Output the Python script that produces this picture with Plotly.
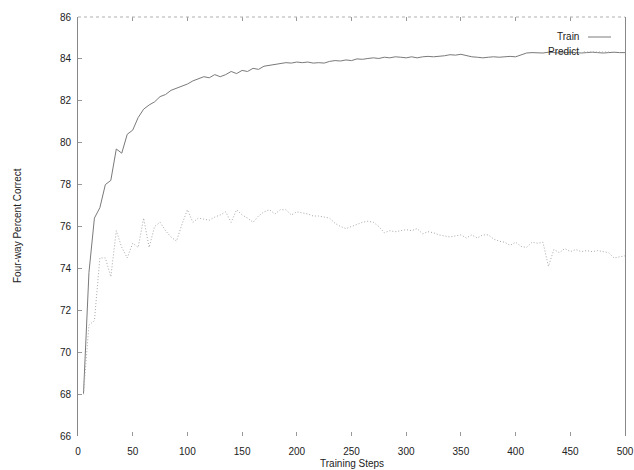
import plotly.graph_objects as go

steps = list(range(5, 505, 5))

train = [68.0, 73.8, 76.4, 76.9, 78.0, 78.2, 79.7, 79.5, 80.4, 80.6,
         81.2, 81.6, 81.8, 81.95, 82.2, 82.3, 82.5, 82.6, 82.7, 82.8,
         82.95, 83.05, 83.15, 83.1, 83.25, 83.15, 83.25, 83.4, 83.3, 83.45,
         83.4, 83.55, 83.5, 83.65, 83.7, 83.72, 83.78, 83.82, 83.8, 83.85,
         83.82, 83.85, 83.8, 83.82, 83.8, 83.88, 83.92, 83.9, 83.95, 83.92,
         84.0, 83.98, 84.02, 84.05, 84.02, 84.08, 84.05, 84.1, 84.08, 84.05,
         84.1, 84.05, 84.1, 84.12, 84.1, 84.12, 84.15, 84.2, 84.18, 84.22,
         84.15, 84.1, 84.08, 84.05, 84.08, 84.1, 84.08, 84.1, 84.12, 84.1,
         84.2, 84.28, 84.3, 84.3, 84.28, 84.32, 84.3, 84.28, 84.3, 84.32,
         84.3, 84.28, 84.3, 84.32, 84.3, 84.28, 84.3, 84.32, 84.3, 84.3]

predict = [68.0, 71.3, 71.5, 74.5, 74.5, 73.6, 75.8, 75.0, 74.5, 75.2,
           75.0, 76.4, 75.0, 76.0, 76.2, 75.8, 75.5, 75.3, 76.1, 76.8,
           76.2, 76.4, 76.35, 76.3, 76.45, 76.55, 76.7, 76.2, 76.8, 76.55,
           76.4, 76.2, 76.5, 76.7, 76.8, 76.6, 76.8, 76.8, 76.55, 76.7,
           76.65, 76.6, 76.5, 76.5, 76.45, 76.4, 76.15, 76.0, 75.9, 76.0,
           76.1, 76.2, 76.25, 76.2, 76.0, 75.7, 75.8, 75.75, 75.8, 75.85,
           75.8, 75.9, 75.65, 75.75, 75.7, 75.6, 75.55, 75.5, 75.55, 75.6,
           75.45, 75.6, 75.45, 75.6, 75.6, 75.4, 75.3, 75.25, 75.1, 75.25,
           75.05, 75.0, 75.25, 75.2, 75.25, 74.1, 74.9, 74.75, 74.95, 74.8,
           74.9, 74.8, 74.85, 74.8, 74.85, 74.8, 74.75, 74.5, 74.55, 74.6]

x_ticks = [0, 50, 100, 150, 200, 250, 300, 350, 400, 450, 500]
y_ticks = [66, 68, 70, 72, 74, 76, 78, 80, 82, 84, 86]

FONT = "Liberation Sans, Arial, sans-serif"
TXT = "#222222"
TRAIN_C = "#7a7a7a"
PRED_C = "#a8a8a8"

# plot area spans 547 x 419 px, top-left at (78, 17) in the window
PW, PH = 547, 419
OX, OY = 78, 17


def px(xw):
    return (xw - OX) / PW


def py(yw):
    return (OY + PH - yw) / PH


fig = go.Figure()
fig.add_trace(go.Scatter(x=steps, y=train, mode="lines", name="Train",
                         line=dict(color=TRAIN_C, width=1), showlegend=False))
fig.add_trace(go.Scatter(x=steps, y=predict, mode="lines", name="Predict",
                         line=dict(color=PRED_C, width=1, dash="1px,2px"),
                         showlegend=False))

fig.update_layout(
    width=634, height=470,
    margin=dict(l=78, r=9, t=17, b=34, autoexpand=False),
    paper_bgcolor="white", plot_bgcolor="white",
    font=dict(family=FONT, size=10, color=TXT),
    xaxis=dict(range=[0, 500], tickvals=x_ticks, ticks="inside", ticklen=4,
               tickcolor="#999999", showgrid=False, zeroline=False,
               showline=False, mirror="ticks", ticklabelstandoff=8,
               automargin=False,
               tickfont=dict(size=10, family=FONT, color=TXT)),
    yaxis=dict(range=[66, 86], tickvals=y_ticks, ticks="inside", ticklen=4,
               tickcolor="#999999", showgrid=False, zeroline=False,
               showline=True, linecolor="#888888", linewidth=1, mirror=True,
               ticklabelstandoff=4, automargin=False,
               tickfont=dict(size=10, family=FONT, color=TXT)),
    shapes=[
        dict(type="line", xref="paper", yref="paper", x0=0, x1=1, y0=1, y1=1,
             line=dict(color="#b0b0b0", width=1, dash="dot")),
        dict(type="line", xref="paper", yref="paper",
             x0=px(588), x1=px(611), y0=py(37), y1=py(37),
             line=dict(color=TRAIN_C, width=1)),
        dict(type="line", xref="paper", yref="paper",
             x0=px(584), x1=px(611), y0=py(52), y1=py(52),
             line=dict(color=PRED_C, width=1, dash="1px,2px")),
    ],
    annotations=[
        dict(text="Train", xref="paper", yref="paper", x=px(581), y=py(36),
             xanchor="right", yanchor="middle", showarrow=False,
             font=dict(size=10, family=FONT, color=TXT)),
        dict(text="Predict", xref="paper", yref="paper", x=px(581), y=py(51),
             xanchor="right", yanchor="middle", showarrow=False,
             font=dict(size=10, family=FONT, color=TXT)),
        dict(text="Four-way Percent Correct", xref="paper", yref="paper",
             x=px(17), y=py(226), textangle=-90,
             xanchor="center", yanchor="middle", showarrow=False,
             font=dict(size=10, family=FONT, color=TXT)),
        dict(text="Training Steps", xref="paper", yref="paper",
             x=px(352), y=py(463),
             xanchor="center", yanchor="middle", showarrow=False,
             font=dict(size=10, family=FONT, color=TXT)),
    ],
)

fig.write_html(
    "out.html",
    config={"displayModeBar": False},
    post_script=(
        "document.documentElement.style.margin='0';"
        "document.body.style.margin='0';"
        "document.body.style.padding='0';"
        "document.body.style.overflow='hidden';"
    ),
)
